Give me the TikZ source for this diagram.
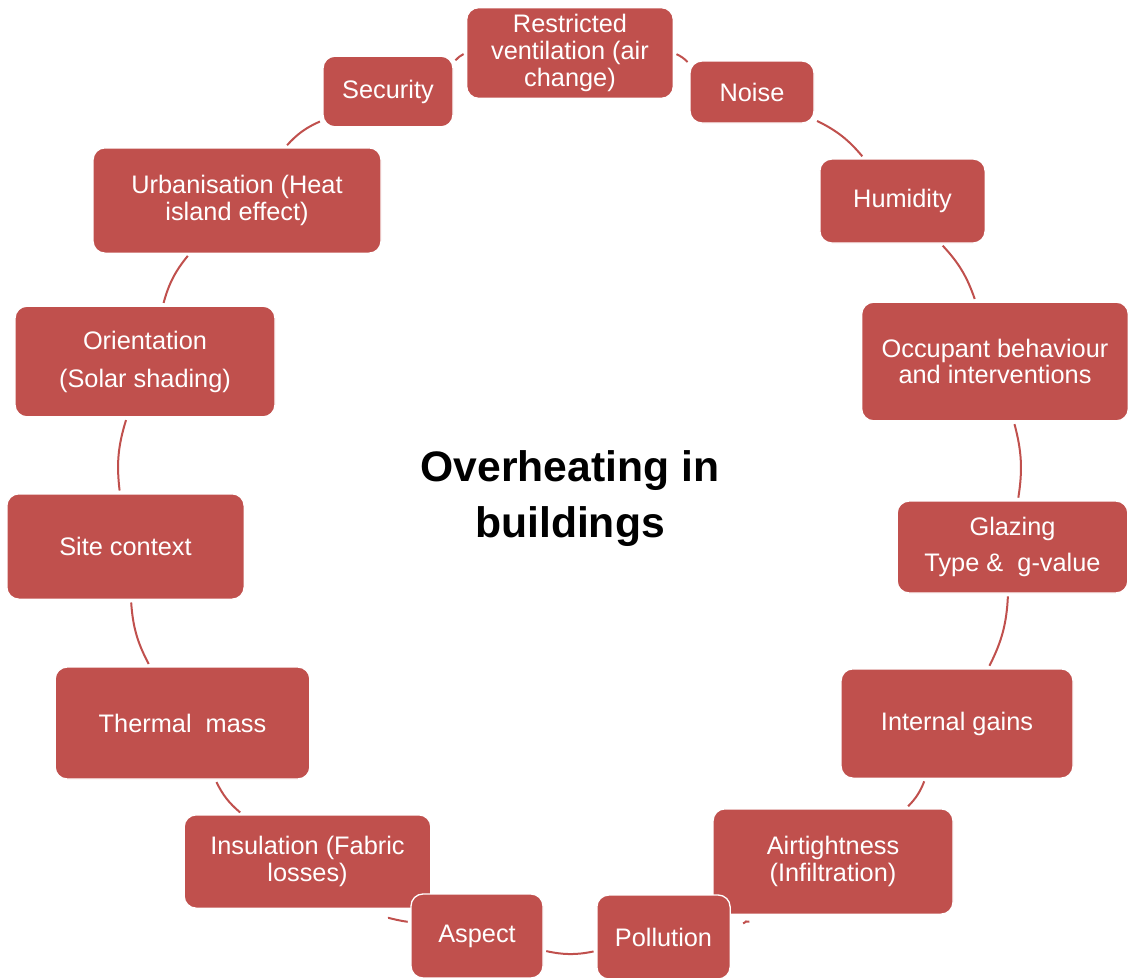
\documentclass[tikz,border=0pt]{standalone}
\usepackage{fontspec}
\setmainfont{Liberation Sans}
\usetikzlibrary{backgrounds}
\definecolor{boxred}{HTML}{C0504D}
\begin{document}
\begin{tikzpicture}[x=0.75pt,y=-0.75pt,
  factor/.style={rectangle, rounded corners=9pt, fill=boxred, draw=white, line width=1pt,
    text=white, font=\fontsize{19}{20}\selectfont, align=center, inner sep=0pt},
  link/.style={draw=boxred, line width=1.5pt, bend left=12, shorten <=2pt, shorten >=2pt}]
\useasboundingbox (0,0) rectangle (1129,978);

\node[factor, minimum width=155pt, minimum height=68pt] (vent) at (570,53) {Restricted\\ventilation (air\\change)};
\node[factor, minimum width=93pt, minimum height=46.5pt] (noise) at (752,92) {Noise};
\node[factor, minimum width=124pt, minimum height=63pt] (humid) at (902.5,201) {Humidity};
\node[factor, minimum width=200pt, minimum height=89pt] (occ) at (995,361.5) {Occupant behaviour\\and interventions};
\node[factor, minimum width=173pt, minimum height=69pt] (glaz) at (1012.5,547) {Glazing\\[7.5pt]Type \&\ \ g-value};
\node[factor, minimum width=174pt, minimum height=82pt] (gains) at (957,723.5) {Internal gains};
\node[factor, minimum width=180pt, minimum height=79pt] (air) at (833,861.5) {Airtightness\\(Infiltration)};
\node[factor, minimum width=100pt, minimum height=63pt] (poll) at (663.5,937) {Pollution};
\node[factor, minimum width=185pt, minimum height=70pt] (insul) at (307.5,861.5) {Insulation (Fabric\\losses)};
\node[factor, minimum width=99pt, minimum height=63pt] (aspect) at (477,936) {Aspect};
\node[factor, minimum width=191pt, minimum height=84pt] (mass) at (182.5,723) {Thermal\ \ mass};
\node[factor, minimum width=178pt, minimum height=79pt] (site) at (125.5,546.5) {Site context};
\node[factor, minimum width=195pt, minimum height=83pt] (orient) at (145,361.5) {Orientation\\[8.5pt](Solar shading)};
\node[factor, minimum width=216pt, minimum height=79pt] (urban) at (237,200.5) {Urbanisation (Heat\\island effect)};
\node[factor, minimum width=97.5pt, minimum height=53pt] (secur) at (388,91.5) {Security};

\node[font=\bfseries\fontsize{32}{42}\selectfont, align=center, text=black] (title) at (570,499) {Overheating in\\buildings};

\begin{scope}[on background layer]
\draw[link] (vent) to (noise);
\draw[link] (noise) to (humid);
\draw[link] (humid) to (occ);
\draw[link] (occ) to (glaz);
\draw[link] (glaz) to (gains);
\draw[link] (gains) to (air);
\draw[link, shorten >=14pt, shorten <=14pt] (air) to (poll);
\draw[link] (poll) to (aspect);
\draw[link, shorten >=13pt] (aspect) to (insul);
\draw[link] (insul) to (mass);
\draw[link] (mass) to (site);
\draw[link] (site) to (orient);
\draw[link] (orient) to (urban);
\draw[link] (urban) to (secur);
\draw[link] (secur) to (vent);
\end{scope}
\end{tikzpicture}
\end{document}
